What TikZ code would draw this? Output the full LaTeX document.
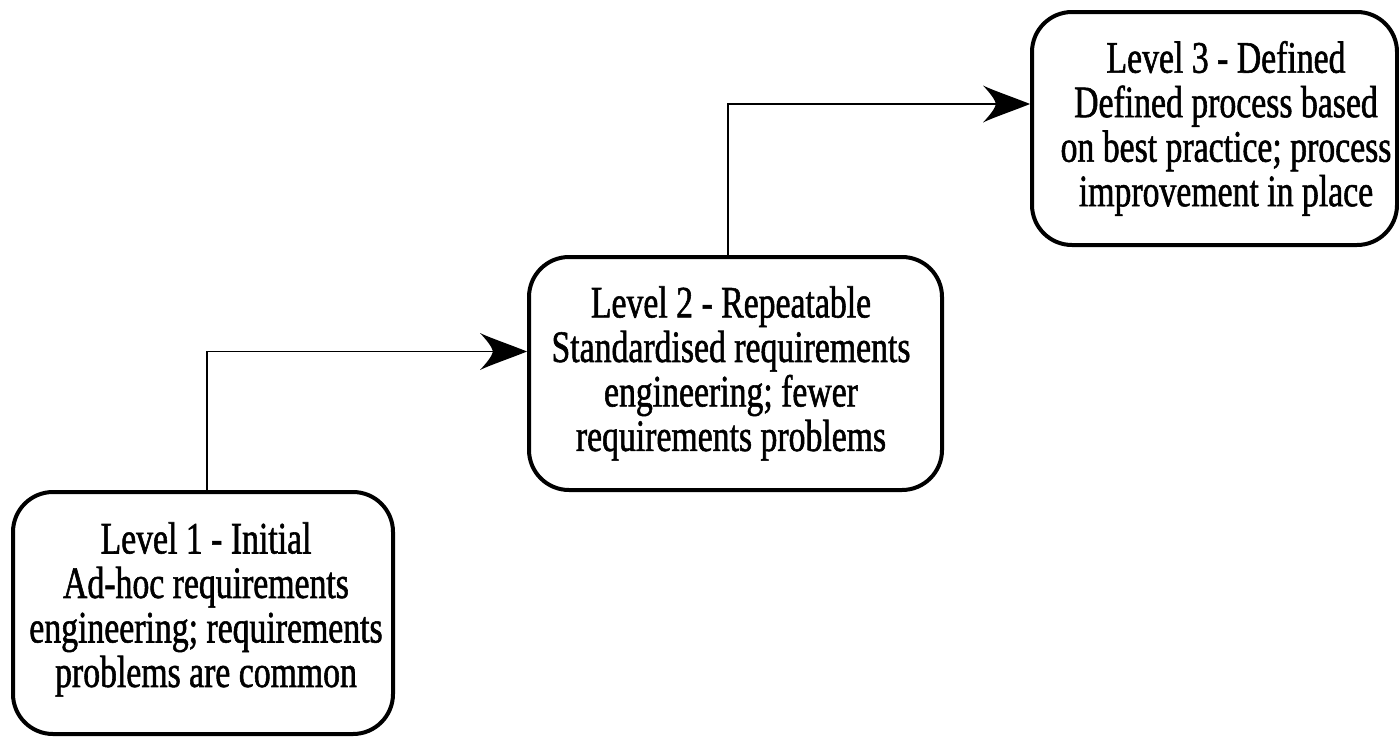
\documentclass[tikz,border=0pt]{standalone}
\usepackage{fontspec}
\usetikzlibrary{arrows.meta}
\newfontfamily\stagefont{Liberation Serif}[FakeStretch=0.75, FakeBold=1.2]

% stealth-like arrow tip with a curved notch
\pgfdeclarearrow{
  name=CurvedStealth,
  setup code={
    \pgfarrowssettipend{0pt}
    \pgfarrowssetlineend{-30pt}
    \pgfarrowssetbackend{-47pt}
    \pgfarrowshullpoint{0pt}{0pt}
    \pgfarrowshullpoint{-47pt}{18.5pt}
    \pgfarrowshullpoint{-47pt}{-18.5pt}
  },
  drawing code={
    \pgfpathmoveto{\pgfpoint{0pt}{0pt}}
    \pgfpathcurveto{\pgfpoint{-16pt}{6.5pt}}{\pgfpoint{-38pt}{14pt}}{\pgfpoint{-47pt}{18.5pt}}
    \pgfpathcurveto{\pgfpoint{-40pt}{11pt}}{\pgfpoint{-35pt}{4.5pt}}{\pgfpoint{-34pt}{0pt}}
    \pgfpathcurveto{\pgfpoint{-35pt}{-4.5pt}}{\pgfpoint{-40pt}{-11pt}}{\pgfpoint{-47pt}{-18.5pt}}
    \pgfpathcurveto{\pgfpoint{-38pt}{-14pt}}{\pgfpoint{-16pt}{-6.5pt}}{\pgfpoint{0pt}{0pt}}
    \pgfpathclose
    \pgfusepathqfill
  },
}

\begin{document}
\begin{tikzpicture}[x=1pt,y=-1pt,
  stagebox/.style={draw=black, line width=4pt, rounded corners=40pt,
    inner sep=0pt, outer sep=2pt},
  stagetext/.style={align=center, inner sep=0pt,
    font=\stagefont\fontsize{45}{44.5}\selectfont},
  conn/.style={draw=black, line width=1.2pt, -CurvedStealth}]
  \useasboundingbox (0,0) rectangle (1399,736);

  % maturity level boxes
  \node[stagebox, minimum width=380pt, minimum height=242pt] (b1) at (203,613) {};
  \node[stagebox, minimum width=413pt, minimum height=233pt] (b2) at (735.5,373.5) {};
  \node[stagebox, minimum width=365pt, minimum height=233pt] (b3) at (1214.5,128.5) {};

  % box captions
  \node[stagetext] (t1) at (206,609.4) {Level 1 - Initial\\Ad-hoc requirements\\engineering; requirements\\problems are common};
  \node[stagetext] (t2) at (731,373.4) {Level 2 - Repeatable\\Standardised requirements\\engineering; fewer\\requirements problems};
  \node[stagetext] (t3) at (1226,128.4) {Level 3 - Defined\\Defined process based\\on best practice; process\\improvement in place};

  % step connectors
  \coordinate (k1) at (207,351.5);
  \coordinate (k2) at (728,104);
  \draw[conn] (b1.north -| k1) |- (b2.west |- k1);
  \draw[conn] (b2.north -| k2) |- (b3.west |- k2);
\end{tikzpicture}
\end{document}
